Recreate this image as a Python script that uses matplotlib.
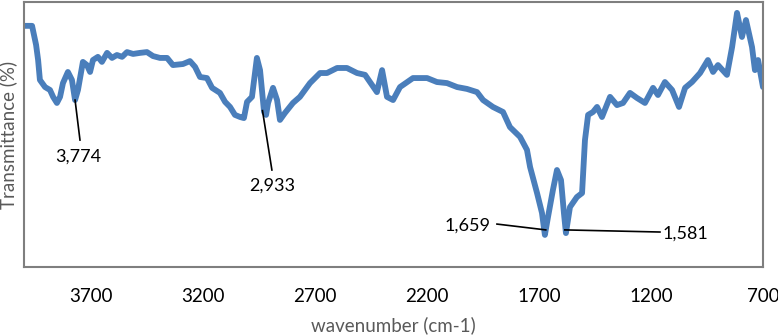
import matplotlib
matplotlib.use("Agg")
from matplotlib import pyplot as plt

# FTIR spectrum (wavenumber in cm-1, transmittance in %)
wavenumber = [4000, 3964, 3946, 3937, 3929, 3906, 3884, 3870, 3853, 3839,
              3826, 3804, 3786, 3772, 3759, 3737, 3719, 3705, 3692, 3670,
              3652, 3629, 3607, 3585, 3562, 3540, 3513, 3482, 3451, 3424,
              3393, 3361, 3335, 3290, 3259, 3236, 3214, 3183, 3160, 3125,
              3102, 3080, 3058, 3035, 3018, 3004, 2982, 2960, 2946, 2928,
              2919, 2910, 2888, 2870, 2857, 2835, 2799, 2768, 2723, 2678,
              2647, 2602, 2558, 2513, 2477, 2455, 2424, 2401, 2379, 2352,
              2321, 2263, 2200, 2156, 2111, 2066, 2022, 1977, 1950, 1906,
              1861, 1830, 1785, 1754, 1740, 1709, 1687, 1674, 1660, 1638,
              1620, 1602, 1589, 1580, 1562, 1531, 1508, 1495, 1481, 1459,
              1441, 1419, 1383, 1352, 1325, 1294, 1263, 1227, 1191, 1169,
              1138, 1106, 1075, 1048, 1017, 981, 946, 923, 901, 861,
              838, 816, 794, 776, 749, 736, 722, 700]
transmittance = [91.0, 91.0, 83.8, 78.1, 70.6, 67.9, 66.8, 64.2, 61.9, 64.2,
                 69.4, 73.6, 70.6, 63.0, 66.8, 77.4, 76.2, 73.6, 78.1, 79.3,
                 77.4, 80.8, 78.9, 80.0, 79.3, 81.1, 80.4, 80.8, 81.1, 79.6,
                 78.9, 78.9, 76.2, 76.6, 77.7, 75.5, 71.7, 71.3, 67.6, 65.7,
                 62.3, 60.4, 57.4, 56.6, 56.2, 62.3, 64.2, 78.9, 74.3, 58.5,
                 57.4, 61.9, 67.6, 63.0, 55.5, 58.1, 61.9, 64.2, 69.4, 73.2,
                 73.2, 75.1, 75.1, 73.2, 72.5, 69.8, 66.0, 74.3, 64.2, 63.0,
                 67.9, 71.3, 71.3, 69.8, 69.4, 67.9, 67.2, 66.0, 63.0, 60.4,
                 58.5, 52.8, 49.1, 44.2, 37.7, 27.9, 20.4, 12.1, 18.9, 29.1,
                 36.6, 32.8, 20.4, 12.8, 22.6, 26.4, 27.9, 47.9, 57.4, 58.5,
                 60.4, 56.6, 64.2, 61.1, 61.9, 65.7, 63.8, 61.9, 67.6, 64.9,
                 69.8, 66.8, 60.4, 67.6, 69.8, 73.2, 78.1, 73.6, 76.2, 72.5,
                 83.0, 95.9, 86.8, 93.2, 83.0, 74.3, 78.1, 67.9]

# peak labels: text, point on curve, end of leader line, text position
peak_labels = ["3,774", "2,933", "1,659", "1,581"]
peak_points = [(3772, 63.0), (2935, 59.0), (1670, 14.0), (1585, 14.0)]
line_ends = [(3750, 47.9), (2893, 36.6), (1888, 16.2), (1160, 13.2)]
text_pos = [(3759, 41.5), (2893, 30.6), (1918, 15.8), (1147, 12.5)]

xticks = [3700, 3200, 2700, 2200, 1700, 1200, 700]

plt.rcParams['font.family'] = ['Lato', 'DejaVu Sans']

fig = plt.figure(figsize=(7.78, 3.36), dpi=100)
ax = fig.add_axes([24 / 778, 1 - 267 / 336, 739 / 778, 265 / 336])

ax.plot(wavenumber, transmittance, color='#4a7ebb', lw=4.2,
        solid_joinstyle='round', solid_capstyle='round')

for label, pt, end, tp in zip(peak_labels, peak_points, line_ends, text_pos):
    ax.plot([pt[0], end[0]], [pt[1], end[1]], color='black', lw=1.2)
    if label == "1,659":
        ha = 'right'
    elif label == "1,581":
        ha = 'left'
    else:
        ha = 'center'
    ax.text(tp[0], tp[1], label, ha=ha, va='center', fontsize=13, color='black')

ax.set_xlim(4000, 700)
ax.set_ylim(0, 100)
ax.set_xticks(xticks)
ax.set_xticklabels([str(t) for t in xticks], fontsize=13.5)
ax.set_yticks([])
ax.tick_params(axis='x', length=0, pad=15)

for s in ax.spines.values():
    s.set_color('#7f7f7f')
    s.set_linewidth(1.5)

ax.set_xlabel("wavenumber (cm-1)", fontsize=13.5, color='#595959')
ax.xaxis.set_label_coords(0.5, -0.185)
ax.set_ylabel("Transmittance (%)", fontsize=13.5, color='#595959')
ax.yaxis.set_label_coords(-0.009, 0.5)

fig.savefig("out.png", dpi=100)
